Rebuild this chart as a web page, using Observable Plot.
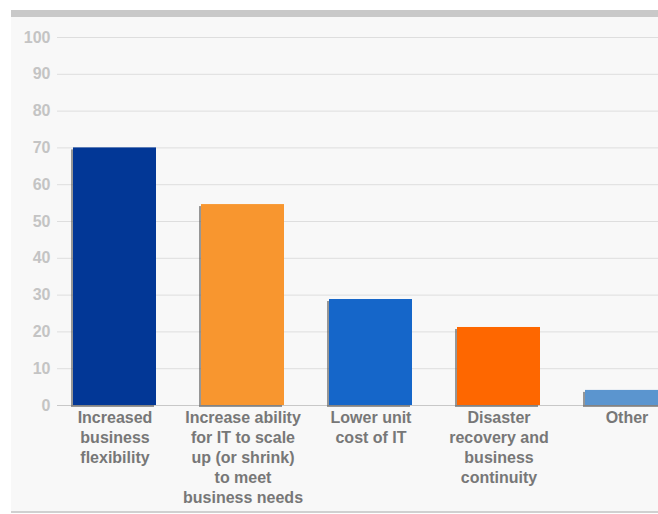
<!DOCTYPE html>
<html>
<head>
<meta charset="utf-8">
<script src="https://cdn.jsdelivr.net/npm/d3@7"></script>
<script src="https://cdn.jsdelivr.net/npm/@observablehq/plot@0.6"></script>
<style>
  html, body { margin: 0; padding: 0; background: #ffffff; width: 658px; height: 514px; overflow: hidden; }
  #panel {
    position: absolute; left: 11px; top: 10px; width: 647px; height: 494px;
    border-top: 7px solid #c9c9c9; border-bottom: 2px solid #d0d0d0;
    background: #f8f8f8; overflow: hidden;
  }
  #panel svg { display: block; margin-left: -11px; max-width: none !important; }
</style>
</head>
<body>
<div id="panel"></div>
<script>
const categories = [
  "Increased business flexibility",
  "Increase ability for IT to scale up (or shrink) to meet business needs",
  "Lower unit cost of IT",
  "Disaster recovery and business continuity",
  "Other"
];
const tickLabels = [
  "Increased\nbusiness\nflexibility",
  "Increase ability\nfor IT to scale\nup (or shrink)\nto meet\nbusiness needs",
  "Lower unit\ncost of IT",
  "Disaster\nrecovery and\nbusiness\ncontinuity",
  "Other"
];
const values = [70, 54.6, 28.8, 21.2, 4.1];
const colors = ["#023796", "#f8962f", "#1566c9", "#fe6700", "#5b95cf"];
const yTicks = [0, 10, 20, 30, 40, 50, 60, 70, 80, 90, 100];

const data = categories.map((c, i) => ({category: c, value: values[i]}));

const chart = Plot.plot({
  width: 690,
  height: 494,
  marginTop: 20,
  marginBottom: 106,
  marginLeft: 57,
  marginRight: 0,
  style: {background: "transparent", fontFamily: "'Liberation Sans', Arial, sans-serif", fontSize: "16px", maxWidth: "none"},
  x: {domain: categories, range: [50, 690], paddingInner: 0.352, paddingOuter: 0.176, align: 0.5, axis: null, label: null},
  y: {domain: [0, 100], axis: null, label: null},
  color: {domain: categories, range: colors},
  marks: [
    Plot.gridY(yTicks, {stroke: "#dedede", strokeOpacity: 1}),
    Plot.axisY(yTicks, {tickSize: 0, tickPadding: 7, fill: "#c4c4c4", fontSize: 16, fontWeight: "bold", textAnchor: "end", label: null}),
    Plot.ruleY([0], {stroke: "#c8c8c8"}),
    Plot.barY(data, {x: "category", y: "value", fill: "#555", fillOpacity: 0.6, dx: -2, dy: 2}),
    Plot.barY(data, {x: "category", y: "value", fill: "category"}),
    Plot.axisX(categories, {
      tickSize: 0, tickPadding: 3, label: null,
      tickFormat: d => tickLabels[categories.indexOf(d)],
      fill: "#777", fontWeight: "bold", fontSize: 16, lineHeight: 1.25
    })
  ]
});
document.getElementById("panel").appendChild(chart);
</script>
</body>
</html>
